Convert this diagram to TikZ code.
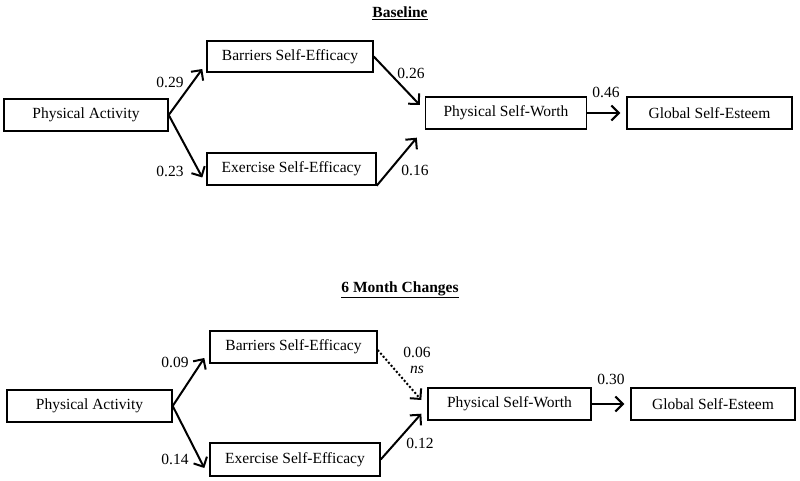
\documentclass[tikz,border=0pt]{standalone}
\usepackage{fontspec}
\setmainfont{Liberation Serif}
\usetikzlibrary{arrows.meta}
\begin{document}
\begin{tikzpicture}[x=1pt,y=-1pt,
  box/.style={draw,line width=1.4pt,minimum height=32pt,inner sep=0pt,font=\fontsize{15.5}{18}\selectfont},
  lbl/.style={inner sep=0pt,font=\fontsize{15.5}{18}\selectfont},
  ttl/.style={inner sep=0pt,font=\fontsize{15.5}{18}\selectfont\bfseries},
  arr/.style={line width=2pt,-{Straight Barb[length=7.5pt,width=15pt,line width=2pt]}}]
\useasboundingbox (0,0) rectangle (800,481);
% ---------- Baseline ----------
\node[ttl] (t1) at (400,13) {\underline{Baseline}};
\node[box,minimum width=164pt] (pa) at (86,115) {Physical Activity};
\node[box,minimum width=166pt,minimum height=31pt] (bse) at (290,56.5) {Barriers Self-Efficacy};
\node[box,minimum width=169pt] (ese) at (291.5,169) {Exercise Self-Efficacy};
\node[box,minimum width=161pt] (psw) at (506,113) {Physical Self-Worth};
\node[box,minimum width=165pt] (gse) at (709.5,113) {Global Self-Esteem};
\draw[arr] (pa.east) -- ([shift={(-4,12.5)}]bse.west);
\draw[arr] (pa.east) -- ([shift={(-4,8.5)}]ese.west);
\draw[arr] (bse.east) -- ([shift={(-5,-8)}]psw.west);
\draw[arr] (ese.south east) -- ([shift={(-8,8)}]psw.south west);
\draw[arr] (psw.east) -- ([shift={(-6,0)}]gse.west);
\node[lbl] (l1) at (170,82) {0.29};
\node[lbl] (l2) at (170,171) {0.23};
\node[lbl] (l3) at (411,73) {0.26};
\node[lbl] (l4) at (415,170) {0.16};
\node[lbl] (l5) at (606,92) {0.46};
% ---------- 6 Month Changes ----------
\node[ttl] (t2) at (400,290) {\underline{6 Month Changes}};
\node[box,minimum width=165pt] (pa2) at (89.5,406) {Physical Activity};
\node[box,minimum width=167pt] (bse2) at (293.5,347) {Barriers Self-Efficacy};
\node[box,minimum width=170pt,minimum height=33pt] (ese2) at (295,459.5) {Exercise Self-Efficacy};
\node[box,minimum width=163pt] (psw2) at (509.5,404) {Physical Self-Worth};
\node[box,minimum width=164pt] (gse2) at (713,404) {Global Self-Esteem};
\draw[arr] (pa2.east) -- ([shift={(-5,11)}]bse2.west);
\draw[arr] (pa2.east) -- ([shift={(-5,8.5)}]ese2.west);
\draw[arr,dotted] ([shift={(0,3)}]bse2.east) -- ([shift={(-6,-4)}]psw2.west);
\draw[arr] (ese2.east) -- ([shift={(-6,-7)}]psw2.south west);
\draw[arr] (psw2.east) -- ([shift={(-6,0)}]gse2.west);
\node[lbl] (m1) at (175,362) {0.09};
\node[lbl] (m2) at (175,459) {0.14};
\node[lbl] (m3) at (417,352) {0.06};
\node[lbl] (m4) at (417,370) {\itshape ns};
\node[lbl] (m5) at (420,443) {0.12};
\node[lbl] (m6) at (611,379) {0.30};
\end{tikzpicture}
\end{document}
